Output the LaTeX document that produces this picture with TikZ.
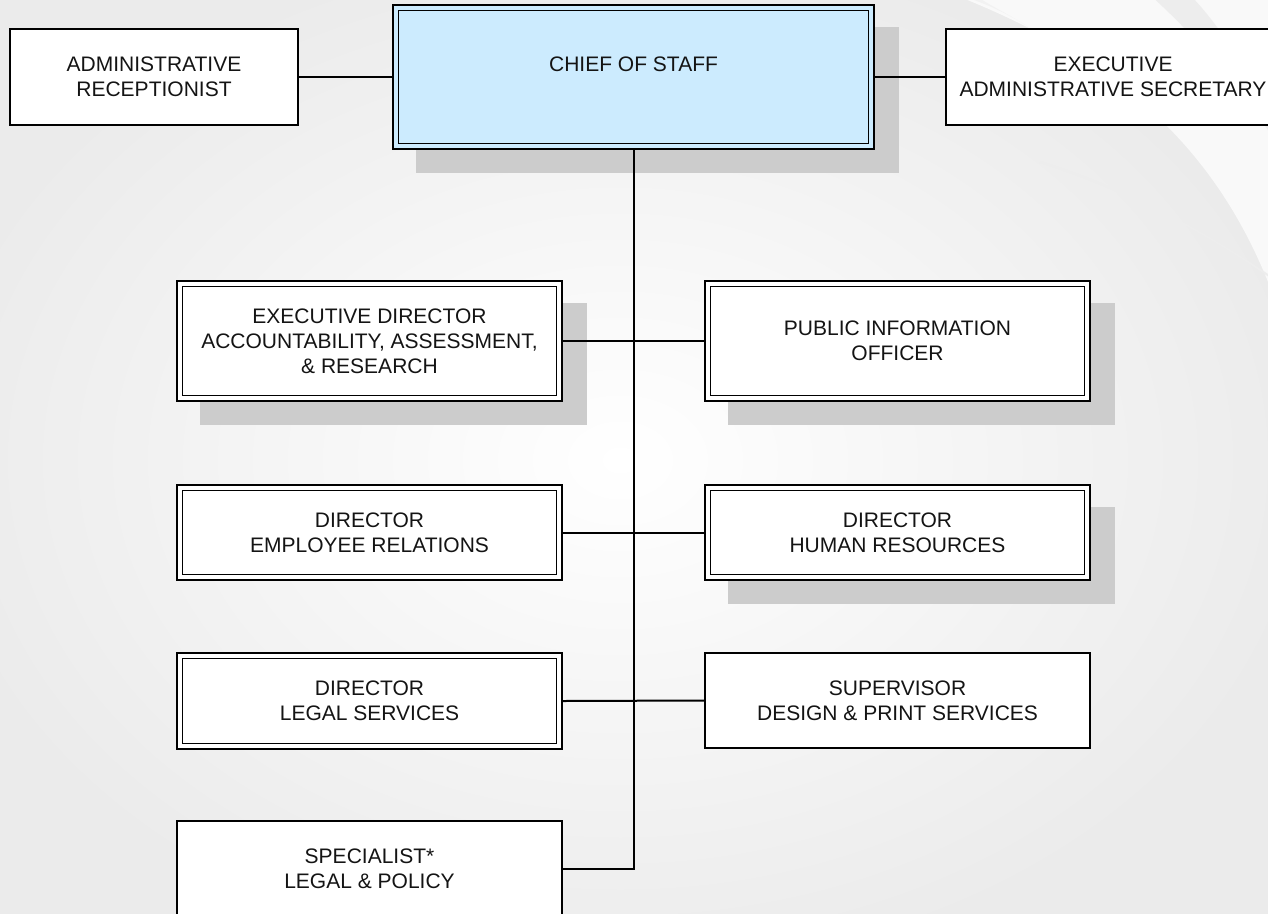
\documentclass[tikz,border=0pt]{standalone}
\usepackage{fontspec}
\setmainfont{Liberation Sans}
\definecolor{chieffill}{HTML}{CCEBFE}
\definecolor{shadowc}{HTML}{CCCCCC}
\definecolor{bgedge}{HTML}{EBEBEB}
\pgfdeclarelayer{bglayer}
\pgfdeclarelayer{midlayer}
\pgfsetlayers{bglayer,midlayer,main}
\begin{document}
\begin{tikzpicture}[x=1pt,y=-1pt,
  box/.style={draw=black, line width=2.2pt, fill=white, align=center,
    inner sep=0pt, font=\fontsize{21}{25}\selectfont, text=black!92},
  dbox/.style={box, path picture={\draw[line width=1.1pt]
      ([xshift=5.2pt,yshift=-5.2pt]path picture bounding box.north west) rectangle
      ([xshift=-5.2pt,yshift=5.2pt]path picture bounding box.south east);}},
  link/.style={draw=black, line width=2pt},
  shad/.style={fill=shadowc}]
\useasboundingbox (0,0) rectangle (1268,913);
\clip (0,0) rectangle (1268,913);

% nodes
\node[box, minimum width=288pt, minimum height=96pt] (admin) at (154,77)
  {ADMINISTRATIVE\\RECEPTIONIST};
\node[dbox, fill=chieffill, minimum width=481pt, minimum height=144pt] (chief) at (633.5,77)
  {CHIEF OF STAFF\\\mbox{}};
\node[box, minimum width=334pt, minimum height=96pt] (exsec) at (1113,77)
  {EXECUTIVE\\ADMINISTRATIVE SECRETARY};
\node[dbox, minimum width=385pt, minimum height=120pt] (execdir) at (369.5,341)
  {EXECUTIVE DIRECTOR\\ACCOUNTABILITY, ASSESSMENT,\\\& RESEARCH};
\node[dbox, minimum width=385pt, minimum height=120pt] (pio) at (897.5,341)
  {PUBLIC INFORMATION\\OFFICER};
\node[dbox, minimum width=385pt, minimum height=95pt] (empl) at (369.5,532.5)
  {DIRECTOR\\EMPLOYEE RELATIONS};
\node[dbox, minimum width=385pt, minimum height=95pt] (hr) at (897.5,532.5)
  {DIRECTOR\\HUMAN RESOURCES};
\node[dbox, minimum width=385pt, minimum height=96pt] (legal) at (369.5,701)
  {DIRECTOR\\LEGAL SERVICES};
\node[box, minimum width=385pt, minimum height=95pt] (sup) at (897.5,700.5)
  {SUPERVISOR\\DESIGN \& PRINT SERVICES};
\node[box, minimum width=385pt, minimum height=96pt] (spec) at (369.5,869)
  {SPECIALIST*\\LEGAL \& POLICY};

% background
\begin{pgfonlayer}{bglayer}
\shade[inner color=white, outer color=bgedge] (-80,-60) rectangle (1320,980);
\fill[white, opacity=0.7] (955,-5) .. controls (1120,60) and (1220,150) .. (1275,300) -- (1275,-5) -- cycle;
\fill[black!7] (1150,-5) .. controls (1200,40) and (1240,90) .. (1275,140) -- (1275,110) .. controls (1240,60) and (1215,20) .. (1190,-5) -- cycle;
\fill[black!5] (960,-5) .. controls (990,5) and (1010,15) .. (1030,28) .. controls (1005,12) and (985,3) .. (975,-5) -- cycle;
\draw[black!7, line width=2pt] (1040,162) .. controls (1130,190) and (1210,235) .. (1275,280);
\end{pgfonlayer}

% shadows and connectors
\begin{pgfonlayer}{midlayer}
\foreach \n in {chief,execdir,pio,hr}{
  \fill[shad] ([xshift=24pt,yshift=-23pt]\n.north west) rectangle ([xshift=24pt,yshift=-23pt]\n.south east);
}
\draw[link] (admin.east) -- (chief.west);
\draw[link] (chief.east) -- (exsec.west);
\draw[link] (chief.south) |- (spec.east);
\draw[link] (execdir.east) -- (pio.west);
\draw[link] (empl.east) -- (hr.west);
\draw[link] (legal.east) -- (sup.west);
\end{pgfonlayer}
\end{tikzpicture}
\end{document}
